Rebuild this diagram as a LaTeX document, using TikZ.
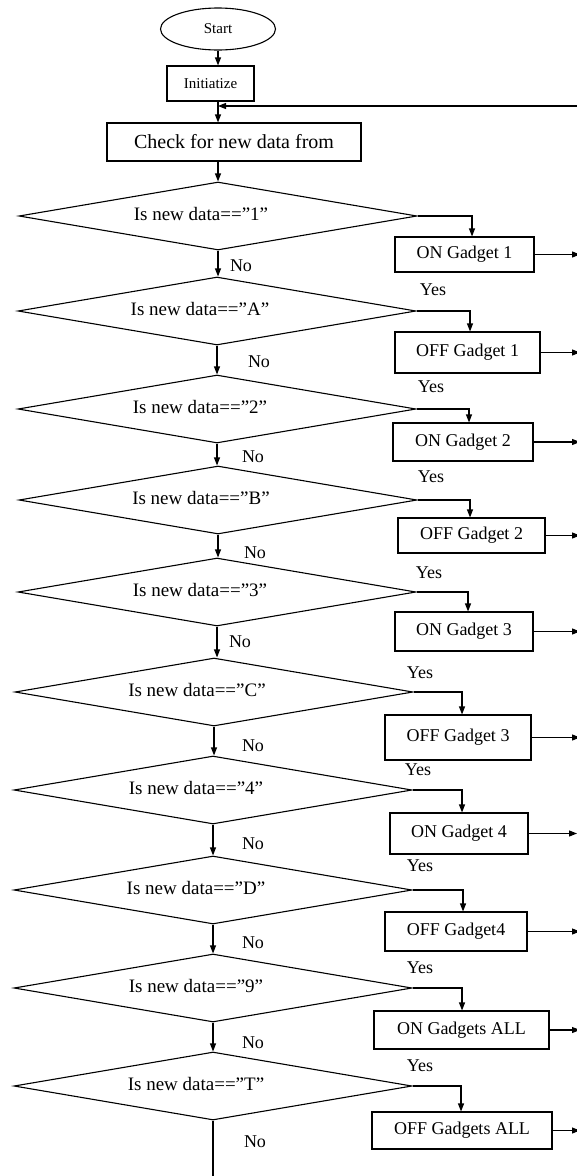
\documentclass[tikz,border=0pt]{standalone}
\usepackage{fontspec}
\setmainfont{Liberation Serif}
\usetikzlibrary{shapes.geometric,arrows.meta,calc}
\begin{document}
\begin{tikzpicture}[x=1pt,y=-1pt,
  line width=1.1pt,
  arr/.style={-{Triangle[length=8pt,width=6pt]}},
  dia/.style={draw,diamond,aspect=6,inner sep=0pt,minimum width=398pt,minimum height=68pt},
  dtext/.style={font=\fontsize{19}{19}\selectfont,inner sep=0pt,xshift=-17pt,yshift=2pt},
  gbox/.style={draw,rectangle,font=\fontsize{18}{18}\selectfont,inner sep=0pt},
  lab/.style={font=\fontsize{18}{18}\selectfont,inner sep=0pt},
]
\useasboundingbox (0,0) rectangle (576,1176);
\coordinate (edge) at (580,0);
\coordinate (edgeb) at (577,0);
\coordinate (bot) at (0,1180);
\coordinate (fb) at (580,106);

\node[draw,ellipse,minimum width=115pt,minimum height=42pt,inner sep=0pt,font=\fontsize{15}{15}\selectfont] (start) at (218,29) {Start};
\node[draw,minimum width=87pt,minimum height=35pt,inner sep=0pt,font=\fontsize{15}{15}\selectfont] (init) at (210.5,83.5) {Initiatize};
\node[draw,minimum width=254pt,minimum height=38pt,inner sep=0pt,font=\fontsize{20}{20}\selectfont] (check) at (234,142) {Check for new data from};

\node[dia,label={[dtext]center:Is new data==”1”}] (d1) at (218,216) {};
\node[dia,label={[dtext]center:Is new data==”A”}] (d2) at (217,311) {};
\node[dia,label={[dtext]center:Is new data==”2”}] (d3) at (217,409) {};
\node[dia,label={[dtext]center:Is new data==”B”}] (d4) at (218,500) {};
\node[dia,label={[dtext]center:Is new data==”3”}] (d5) at (217,592) {};
\node[dia,label={[dtext]center:Is new data==”C”}] (d6) at (214,692) {};
\node[dia,label={[dtext]center:Is new data==”4”}] (d7) at (213,790) {};
\node[dia,label={[dtext]center:Is new data==”D”}] (d8) at (213,890) {};
\node[dia,label={[dtext]center:Is new data==”9”}] (d9) at (213,988) {};
\node[dia,label={[dtext]center:Is new data==”T”}] (d10) at (213,1086) {};

\node[gbox,minimum width=139pt,minimum height=35pt] (b1) at (464.5,254.5) {ON Gadget 1};
\node[gbox,minimum width=145pt,minimum height=41pt] (b2) at (467.5,352.5) {OFF Gadget 1};
\node[gbox,minimum width=140pt,minimum height=38pt] (b3) at (463,442) {ON Gadget 2};
\node[gbox,minimum width=147pt,minimum height=35pt] (b4) at (471.5,535.5) {OFF Gadget 2};
\node[gbox,minimum width=138pt,minimum height=39pt] (b5) at (464,631.5) {ON Gadget 3};
\node[gbox,minimum width=146pt,minimum height=45pt] (b6) at (458,737.5) {OFF Gadget 3};
\node[gbox,minimum width=138pt,minimum height=41pt] (b7) at (459,833.5) {ON Gadget 4};
\node[gbox,minimum width=142pt,minimum height=39pt] (b8) at (456,931.5) {OFF Gadget4};
\node[gbox,minimum width=175pt,minimum height=38pt] (b9) at (461.5,1030) {ON Gadgets ALL};
\node[gbox,minimum width=180pt,minimum height=37pt] (b10) at (462,1130.5) {OFF Gadgets ALL};

% top flow
\draw[arr] (start.south) -- (start.south |- init.north);
\draw[arr] (start.south |- init.south) -- (start.south |- check.north);
\draw[arr] (fb) -- (fb -| start.south);
\draw[arr] (check.south -| d1.north) -- (d1.north);

% No arrows
\draw[arr] (d1.south) -- (d1.south |- d2.north);
\draw[arr] (d2.south) -- (d2.south |- d3.north);
\draw[arr] (d3.south) -- (d3.south |- d4.north);
\draw[arr] (d4.south) -- (d4.south |- d5.north);
\draw[arr] (d5.south) -- (d5.south |- d6.north);
\draw[arr] (d6.south) -- (d6.south |- d7.north);
\draw[arr] (d7.south) -- (d7.south |- d8.north);
\draw[arr] (d8.south) -- (d8.south |- d9.north);
\draw[arr] (d9.south) -- (d9.south |- d10.north);
\draw (d10.south) -- (d10.south |- bot);

% Yes arrows
\draw[arr] (d1.east) -| ($(b1.north)+(7.5,0)$);
\draw[arr] (d2.east) -| ($(b2.north)+(2.5,0)$);
\draw[arr] (d3.east) -| ($(b3.north)+(6,0)$);
\draw[arr] (d4.east) -| ($(b4.north)+(-1.5,0)$);
\draw[arr] (d5.east) -| ($(b5.north)+(4,0)$);
\draw[arr] (d6.east) -| ($(b6.north)+(4,0)$);
\draw[arr] (d7.east) -| ($(b7.north)+(3,0)$);
\draw[arr] (d8.east) -| ($(b8.north)+(7,0)$);
\draw[arr] (d9.east) -| ($(b9.north)+(0.5,0)$);
\draw[arr] (d10.east) -| ($(b10.north)+(-1,0)$);

% right arrows to loop-back
\foreach \b in {b1,b2,b3,b4,b5,b6,b8,b9,b10}{
  \draw[arr] (\b.east) -- (\b.east -| edge);
}
\draw[arr] (b7.east) -- (b7.east -| edgeb);

% labels
\node[lab] (n1) at (241,266) {No};
\node[lab] (n2) at (259,362) {No};
\node[lab] (n3) at (253,457) {No};
\node[lab] (n4) at (255,553) {No};
\node[lab] (n5) at (240,642) {No};
\node[lab] (n6) at (253,746) {No};
\node[lab] (n7) at (253,844) {No};
\node[lab] (n8) at (253,943) {No};
\node[lab] (n9) at (253,1043) {No};
\node[lab] (n10) at (255,1142) {No};

\node[lab] (y2) at (433,290) {Yes};
\node[lab] (y3) at (431,387) {Yes};
\node[lab] (y4) at (431,477) {Yes};
\node[lab] (y5) at (429,573) {Yes};
\node[lab] (y6) at (420,673) {Yes};
\node[lab] (y7) at (418,770) {Yes};
\node[lab] (y8) at (420,866) {Yes};
\node[lab] (y9) at (420,968) {Yes};
\node[lab] (y10) at (420,1066) {Yes};
\end{tikzpicture}
\end{document}
